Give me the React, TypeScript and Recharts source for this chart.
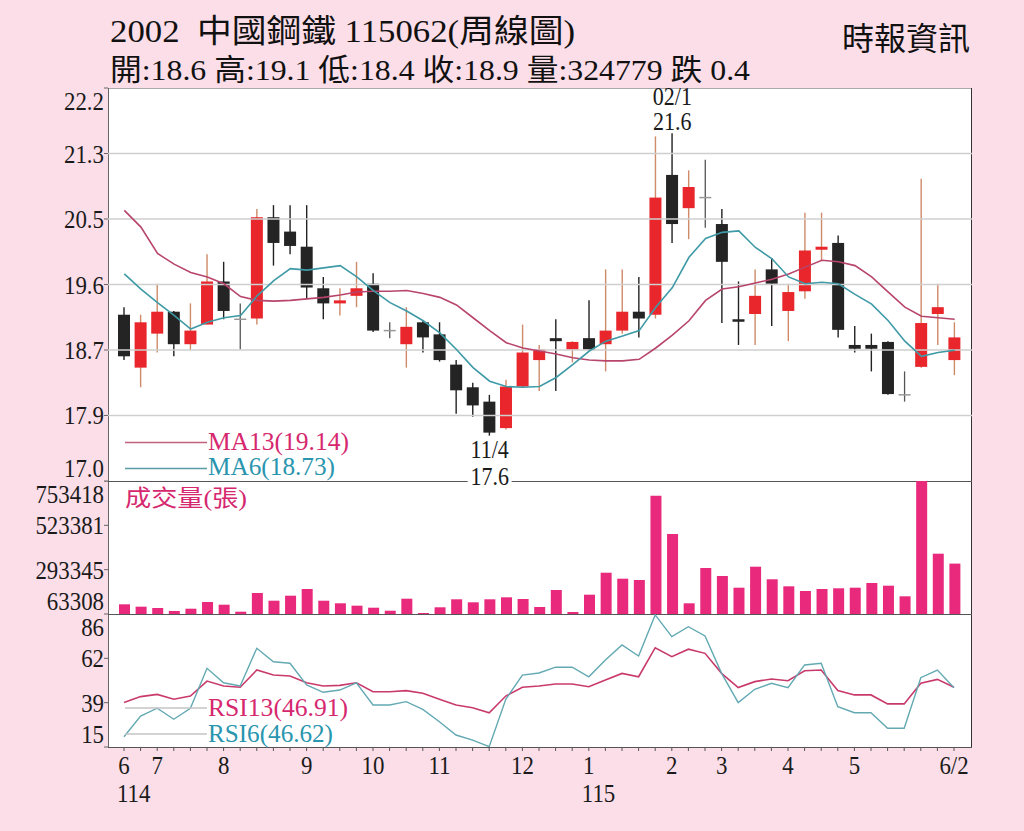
import React from "react";
import {
  ComposedChart,
  Bar,
  Line,
  XAxis,
  YAxis,
  ReferenceLine,
  ReferenceDot,
} from "recharts";

// weekly candles, 114/6 -> 115/6/2
const open = [19.2, 18.5, 18.95, 19.24, 18.81, 19.07, 19.64, 19.14, 19.15, 20.49, 20.3, 20.1, 19.55, 19.35, 19.45, 19.61, 18.99, 18.81, 19.1, 18.94, 18.54, 18.24, 18.05, 17.7, 18.25, 18.6, 18.89, 18.74, 18.89, 18.81, 18.99, 19.24, 19.2, 21.05, 20.61, 20.75, 20.4, 19.14, 19.21, 19.8, 19.25, 19.51, 20.06, 20.15, 18.8, 18.8, 18.84, 18.14, 18.51, 19.21, 18.6];
const high = [19.3, 19.2, 19.61, 19.25, 19.35, 20.0, 19.9, 19.35, 20.6, 20.65, 20.65, 20.65, 19.7, 19.55, 19.9, 19.75, 19.1, 19.3, 19.12, 19.1, 18.6, 18.3, 18.14, 18.34, 19.07, 18.8, 19.14, 18.85, 19.39, 19.8, 19.8, 19.7, 21.56, 21.6, 21.11, 21.25, 20.6, 19.64, 19.8, 19.95, 19.61, 20.55, 20.55, 20.25, 19.05, 18.95, 18.85, 18.45, 21.0, 19.61, 19.1];
const low = [18.6, 18.24, 18.7, 18.65, 18.73, 19.07, 19.14, 18.74, 19.07, 19.85, 20.0, 19.41, 19.14, 19.19, 19.3, 18.97, 18.89, 18.5, 18.7, 18.58, 17.89, 17.85, 17.6, 17.68, 18.24, 18.19, 18.19, 18.57, 18.73, 18.45, 18.95, 18.9, 19.15, 20.15, 20.2, 20.35, 19.09, 18.8, 18.8, 19.05, 18.85, 19.41, 19.92, 18.9, 18.7, 18.45, 18.14, 18.05, 18.5, 18.8, 18.4];
const close = [18.65, 19.1, 19.24, 18.81, 18.99, 19.64, 19.25, 19.14, 20.49, 20.15, 20.11, 19.56, 19.35, 19.39, 19.55, 18.99, 18.99, 19.04, 18.9, 18.6, 18.2, 18.0, 17.64, 18.25, 18.7, 18.74, 18.85, 18.84, 18.74, 18.99, 19.24, 19.15, 20.75, 20.4, 20.89, 20.75, 19.9, 19.11, 19.45, 19.61, 19.5, 20.05, 20.1, 19.0, 18.75, 18.75, 18.15, 18.14, 19.09, 19.3, 18.9];

const ma13 = [20.58, 20.36, 20.01, 19.87, 19.76, 19.7, 19.61, 19.44, 19.39, 19.38, 19.39, 19.41, 19.43, 19.46, 19.5, 19.51, 19.51, 19.52, 19.48, 19.43, 19.33, 19.16, 18.99, 18.83, 18.76, 18.72, 18.68, 18.63, 18.6, 18.59, 18.59, 18.61, 18.76, 18.93, 19.12, 19.39, 19.54, 19.57, 19.62, 19.67, 19.74, 19.83, 19.92, 19.9, 19.85, 19.7, 19.5, 19.3, 19.18, 19.16, 19.14];
const ma6 = [19.74, 19.54, 19.36, 19.19, 19.01, 19.1, 19.16, 19.19, 19.45, 19.65, 19.81, 19.79, 19.82, 19.85, 19.7, 19.52, 19.36, 19.25, 19.12, 18.96, 18.74, 18.5, 18.32, 18.25, 18.24, 18.25, 18.37, 18.54, 18.72, 18.85, 18.92, 18.99, 19.3, 19.56, 19.96, 20.21, 20.29, 20.31, 20.09, 19.94, 19.7, 19.61, 19.63, 19.61, 19.47, 19.34, 19.12, 18.85, 18.65, 18.7, 18.73];

const volume = [113600, 101300, 94400, 78900, 90800, 125600, 111600, 75300, 172300, 132300, 158300, 193000, 132300, 118800, 106400, 96000, 80400, 142700, 68500, 98100, 139600, 124000, 139600, 149900, 141100, 99700, 187800, 73700, 163500, 277600, 246500, 239700, 677200, 478400, 118800, 302000, 260500, 199800, 308700, 243400, 207000, 182600, 193000, 196700, 199800, 224200, 210200, 155100, 753418, 376200, 324779];

const rsi13 = [38.7, 41.9, 43.1, 40.5, 42.2, 50.2, 47.6, 46.9, 56.1, 53.4, 52.9, 49.3, 47.6, 47.9, 49.3, 44.5, 44.5, 45.1, 43.7, 40.5, 37.4, 36.0, 33.3, 42.2, 46.9, 47.6, 48.6, 48.6, 47.2, 50.8, 54.3, 52.5, 68.0, 63.2, 67.2, 65.0, 54.3, 46.7, 49.9, 51.3, 50.4, 55.7, 56.1, 45.1, 42.8, 42.8, 38.0, 38.0, 49.0, 51.1, 46.91];
const rsi6 = [20.5, 31.5, 35.7, 29.8, 35.7, 57.0, 49.3, 47.6, 67.7, 60.5, 59.7, 48.1, 44.2, 45.4, 49.3, 37.4, 37.4, 39.2, 35.1, 28.5, 21.4, 18.7, 15.2, 40.5, 53.4, 54.5, 57.6, 57.6, 52.5, 61.4, 69.5, 63.6, 85.5, 73.9, 79.2, 74.3, 54.3, 38.7, 45.8, 49.0, 46.7, 58.8, 59.7, 36.5, 33.3, 33.3, 25.0, 25.0, 52.0, 56.1, 46.62];

// axis labels
const monthTickIdx = [0, 2, 6, 11, 15, 19, 24, 28, 33, 36, 40, 44, 50];
const monthTickText = ["6", "7", "8", "9", "10", "11", "12", "1", "2", "3", "4", "5", "6/2"];
const yearTickIdx = [0, 28];
const yearTickText = ["114", "115"];

const priceTicks = [17.0, 17.8667, 18.7333, 19.6, 20.4667, 21.3333, 22.2];
const volTicks = [63308, 293345, 523381, 753418];
const rsiTicks = [15, 38.67, 62.33, 86];

const hiMark = { i: 33, date: "02/1", price: 21.6 };
const loMark = { i: 22, date: "11/4", price: 17.6 };

const rows = open.map((o, i) => ({
  i,
  open: o,
  high: high[i],
  low: low[i],
  close: close[i],
  range: [low[i], high[i]],
  ma13: ma13[i],
  ma6: ma6[i],
  vol: volume[i],
  rsi13: rsi13[i],
  rsi6: rsi6[i],
}));

const SERIF = '"Liberation Serif", "DejaVu Serif", "Noto Sans CJK TC", serif';
const PINK_TXT = "#d6286f";
const TEAL_TXT = "#2a95ae";
const CHART_W = 1024;
const MARGIN = { top: 0, right: 52, bottom: 0, left: 0 };
// band axis (charts with bars) and point axis (line-only chart) need different padding
const XPAD_BAND = { left: 8, right: 9 };
const XPAD_POINT = { left: 16, right: 18 };

function Candle(props: any) {
  const { x, y, width, height, payload } = props;
  const { open: o, close: c, high: h, low: l } = payload;
  const top0 = Math.min(y, y + height);
  const hh = Math.abs(height);
  const k = h - l > 0 ? hh / (h - l) : 0;
  const py = (v: number) => top0 + (h - v) * k;
  const cx = x + width / 2;
  if (Math.abs(c - o) < 0.015) {
    const yy = py(o);
    return (
      <g>
        <line x1={cx} x2={cx} y1={top0} y2={top0 + hh} stroke="#555" strokeWidth={1.3} />
        <line x1={x} x2={x + width} y1={yy} y2={yy} stroke="#999" strokeWidth={1.5} />
      </g>
    );
  }
  const up = c > o;
  const bTop = py(Math.max(o, c));
  const bBot = py(Math.min(o, c));
  return (
    <g>
      <line x1={cx} x2={cx} y1={top0} y2={top0 + hh} stroke={up ? "#cf8a68" : "#222"} strokeWidth={1.4} />
      <rect x={x} y={bTop} width={width} height={Math.max(bBot - bTop, 2.5)} fill={up ? "#e8262b" : "#242424"} />
    </g>
  );
}

function YTick(props: any) {
  const { x, y, payload, fmt, lo, hi } = props;
  const v = payload.value;
  let dy = 9;
  if (Math.abs(v - hi) < 1e-6) dy += 13;
  if (Math.abs(v - lo) < 1e-6) dy -= 13;
  return (
    <g transform={`translate(${x + 2},${y + dy}) scale(0.88,1)`}>
      <text textAnchor="end" fontFamily={SERIF} fontSize={26} fill="#1a1a1a">
        {fmt(v)}
      </text>
    </g>
  );
}

function XTick(props: any) {
  const { x, y, payload } = props;
  const k = monthTickIdx.indexOf(payload.value);
  const j = yearTickIdx.indexOf(payload.value);
  return (
    <g fontFamily={SERIF} fontSize={26} fill="#1a1a1a">
      {k >= 0 && (
        <g transform={`translate(${x},${y + 21}) scale(0.88,1)`}>
          <text textAnchor="middle">{monthTickText[k]}</text>
        </g>
      )}
      {j >= 0 && (
        <g transform={`translate(${x - 7},${y + 49}) scale(0.88,1)`}>
          <text textAnchor="start">{yearTickText[j]}</text>
        </g>
      )}
    </g>
  );
}

function HiLabel(props: any) {
  const { viewBox } = props;
  const cx = viewBox.x;
  const cy = viewBox.y;
  return (
    <g fontFamily={SERIF} fontSize={25} fill="#1a1a1a">
      <g transform={`translate(${cx},${cy - 28}) scale(0.88,1)`}>
        <text textAnchor="middle">{hiMark.date}</text>
      </g>
      <g transform={`translate(${cx},${cy - 3}) scale(0.88,1)`}>
        <text textAnchor="middle">{hiMark.price.toFixed(1)}</text>
      </g>
    </g>
  );
}

function LoLabel(props: any) {
  const { viewBox } = props;
  const cx = viewBox.x;
  const cy = viewBox.y;
  return (
    <g fontFamily={SERIF} fontSize={25} fill="#1a1a1a">
      <g transform={`translate(${cx},${cy + 22}) scale(0.88,1)`}>
        <text textAnchor="middle">{loMark.date}</text>
      </g>
      <rect x={cx - 22} y={cy + 31} width={44} height={22} fill="#fff" />
      <g transform={`translate(${cx},${cy + 49}) scale(0.88,1)`}>
        <text textAnchor="middle">{loMark.price.toFixed(1)}</text>
      </g>
    </g>
  );
}

export default function App() {
  return (
    <div
      style={{
        position: "absolute",
        left: 0,
        top: 0,
        width: 1024,
        height: 831,
        background: "#fbdee8",
        overflow: "hidden",
      }}
    >
      {/* plot frame */}
      <svg width={1024} height={831} style={{ position: "absolute", left: 0, top: 0 }}>
        <rect x={108} y={88} width={864} height={659} fill="#fff" />
        <line x1={108} x2={972} y1={88.5} y2={88.5} stroke="#aaa" />
        <line x1={108.5} x2={108.5} y1={88} y2={747} stroke="#666" />
        <line x1={971.5} x2={971.5} y1={88} y2={747} stroke="#333" />
        <line x1={108} x2={972} y1={481.5} y2={481.5} stroke="#555" />
        <line x1={108} x2={972} y1={614.5} y2={614.5} stroke="#555" />
        <line x1={108} x2={972} y1={747.5} y2={747.5} stroke="#555" />
      </svg>

      {/* price */}
      <div style={{ position: "absolute", left: 0, top: 78 }}>
        <ComposedChart width={CHART_W} height={413} data={rows} margin={{ ...MARGIN, top: 10, bottom: 10 }}>
          <XAxis dataKey="i" hide padding={XPAD_BAND} />
          <YAxis
            domain={[17, 22.2]}
            ticks={priceTicks}
            interval={0}
            allowDataOverflow
            width={108}
            axisLine={false}
            tickSize={4}
            tickLine={{ stroke: "#666" }}
            tick={<YTick fmt={(v: number) => v.toFixed(1)} lo={17} hi={22.2} />}
          />
          {priceTicks.slice(1, -1).map((t) => (
            <ReferenceLine key={t} y={t} stroke="#cfcfcf" strokeWidth={1.5} />
          ))}
          <Bar dataKey="range" barSize={12} shape={<Candle />} isAnimationActive={false} />
          <Line dataKey="ma13" stroke="#b8456c" strokeWidth={1.6} dot={false} isAnimationActive={false} />
          <Line dataKey="ma6" stroke="#3e9aa6" strokeWidth={1.6} dot={false} isAnimationActive={false} />
          <ReferenceDot x={hiMark.i} y={hiMark.price} r={0} fill="none" stroke="none" label={<HiLabel />} />
          <ReferenceDot x={loMark.i} y={loMark.price} r={0} fill="none" stroke="none" label={<LoLabel />} />
        </ComposedChart>
      </div>

      {/* volume */}
      <div style={{ position: "absolute", left: 0, top: 481 }}>
        <ComposedChart width={CHART_W} height={133} data={rows} margin={MARGIN}>
          <XAxis dataKey="i" hide padding={XPAD_BAND} />
          <YAxis
            domain={[63308, 753418]}
            ticks={volTicks}
            interval={0}
            allowDataOverflow
            width={108}
            axisLine={false}
            tickSize={4}
            tickLine={{ stroke: "#666" }}
            tick={<YTick fmt={(v: number) => String(v)} lo={63308} hi={753418} />}
          />
          <Bar dataKey="vol" barSize={11} fill="#e8297c" isAnimationActive={false} />
        </ComposedChart>
      </div>

      {/* rsi */}
      <div style={{ position: "absolute", left: 0, top: 614 }}>
        <ComposedChart width={CHART_W} height={203} data={rows} margin={MARGIN}>
          <XAxis
            dataKey="i"
            padding={XPAD_POINT}
            interval={0}
            height={70}
            axisLine={false}
            tickSize={4}
            tickLine={{ stroke: "#555" }}
            tick={<XTick />}
          />
          <YAxis
            domain={[15, 86]}
            ticks={rsiTicks}
            interval={0}
            allowDataOverflow
            width={108}
            axisLine={false}
            tickSize={4}
            tickLine={{ stroke: "#666" }}
            tick={<YTick fmt={(v: number) => String(Math.round(v))} lo={15} hi={86} />}
          />
          <Line dataKey="rsi13" stroke="#c93a6c" strokeWidth={1.6} dot={false} isAnimationActive={false} />
          <Line dataKey="rsi6" stroke="#62a9b2" strokeWidth={1.4} dot={false} isAnimationActive={false} />
        </ComposedChart>
      </div>

      {/* titles and legends */}
      <svg
        width={1024}
        height={831}
        style={{ position: "absolute", left: 0, top: 0, pointerEvents: "none" }}
        fontFamily={SERIF}
      >
        <text x={110} y={42} fontSize={32} fill="#111" textLength={465} lengthAdjust="spacingAndGlyphs" style={{ whiteSpace: "pre" }}>
          2002  中國鋼鐵 115062(周線圖)
        </text>
        <text x={842} y={50} fontSize={32} fill="#111" textLength={128} lengthAdjust="spacingAndGlyphs">
          時報資訊
        </text>
        <text x={110} y={80} fontSize={30} fill="#111" textLength={640} lengthAdjust="spacingAndGlyphs">
          開:18.6 高:19.1 低:18.4 收:18.9 量:324779 跌 0.4
        </text>

        <line x1={125} x2={207} y1={442.5} y2={442.5} stroke="#c2607e" strokeWidth={1.3} />
        <text x={208} y={450} fontSize={25} fill={PINK_TXT} textLength={141} lengthAdjust="spacingAndGlyphs">
          MA13(19.14)
        </text>
        <line x1={125} x2={207} y1={468.5} y2={468.5} stroke="#5a9ca6" strokeWidth={1.3} />
        <text x={208} y={475} fontSize={25} fill={TEAL_TXT} textLength={127} lengthAdjust="spacingAndGlyphs">
          MA6(18.73)
        </text>

        <text x={125} y={506} fontSize={23} fill={PINK_TXT} textLength={122} lengthAdjust="spacingAndGlyphs">
          成交量(張)
        </text>

        <line x1={125} x2={207} y1={708} y2={708} stroke="#c4c4c4" strokeWidth={1.3} />
        <text x={208} y={716} fontSize={25} fill={PINK_TXT} textLength={140} lengthAdjust="spacingAndGlyphs">
          RSI13(46.91)
        </text>
        <line x1={125} x2={207} y1={734} y2={734} stroke="#c4c4c4" strokeWidth={1.3} />
        <text x={208} y={742} fontSize={25} fill={TEAL_TXT} textLength={125} lengthAdjust="spacingAndGlyphs">
          RSI6(46.62)
        </text>
      </svg>
    </div>
  );
}
